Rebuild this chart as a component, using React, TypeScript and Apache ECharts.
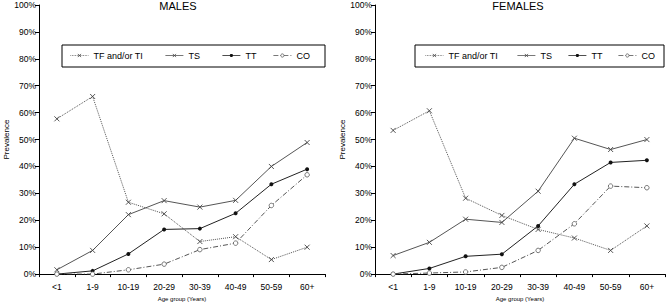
import React, { useEffect, useRef } from 'react';
import * as echarts from 'echarts';

const ageGroups = ['<1', '1-9', '10-19', '20-29', '30-39', '40-49', '50-59', '60+'];
const seriesNames = ['TF and/or TI', 'TS', 'TT', 'CO'];
const panelTitles = ['MALES', 'FEMALES'];

const malesTFTI = [57.7, 66.0, 26.7, 22.4, 12.1, 13.9, 5.4, 10.0];
const malesTS = [1.6, 8.8, 22.1, 27.3, 24.9, 27.4, 40.0, 48.9];
const malesTT = [0, 1.2, 7.5, 16.6, 16.9, 22.6, 33.4, 39.0];
const malesCO = [0, 0, 1.6, 3.7, 9.1, 11.5, 25.5, 36.9];

const femalesTFTI = [53.4, 60.7, 28.2, 21.8, 16.6, 13.4, 8.8, 17.9];
const femalesTS = [6.9, 11.8, 20.4, 19.2, 30.8, 50.5, 46.3, 50.0];
const femalesTT = [0, 2.1, 6.6, 7.4, 17.9, 33.4, 41.5, 42.3];
const femalesCO = [0, 0.4, 0.8, 2.5, 8.8, 18.7, 32.7, 32.1];

const yMin = 0;
const yMax = 100;
const yStep = 10;

const FONT = '"Liberation Sans", Arial, sans-serif';
const CROSS = 'path://M0,0L10,10M0,10L10,0';

const styles = [
  {
    symbol: CROSS,
    symbolSize: 5,
    itemStyle: { color: '#444', borderColor: '#444', borderWidth: 0.9 },
    lineStyle: { color: '#555', width: 1, type: 'dotted' },
  },
  {
    symbol: CROSS,
    symbolSize: 5,
    itemStyle: { color: '#444', borderColor: '#444', borderWidth: 0.9 },
    lineStyle: { color: '#555', width: 1, type: 'solid' },
  },
  {
    symbol: 'circle',
    symbolSize: 4,
    itemStyle: { color: '#111' },
    lineStyle: { color: '#222', width: 1, type: 'solid' },
  },
  {
    symbol: 'circle',
    symbolSize: 4.5,
    itemStyle: { color: '#fff', borderColor: '#555', borderWidth: 0.8 },
    lineStyle: { color: '#555', width: 1, type: [5, 2, 1, 2] },
  },
];

export default function App() {
  const ref = useRef<HTMLDivElement>(null);

  useEffect(() => {
    if (!ref.current) return;
    const chart = echarts.init(ref.current, undefined, { renderer: 'svg' });

    const panels = [
      { data: [malesTFTI, malesTS, malesTT, malesCO], left: 39, width: 286, titleX: 178, legendBox: [62, 263], legendLefts: [70, 165, 222, 273] },
      { data: [femalesTFTI, femalesTS, femalesTT, femalesCO], left: 375, width: 290, titleX: 518, legendBox: [415, 249], legendLefts: [425, 517, 568, 618] },
    ];

    const grid = panels.map((p) => ({ left: p.left, top: 5, width: p.width, height: 276, containLabel: false }));

    const xAxis = panels.map((_, i) => ({
      type: 'category',
      gridIndex: i,
      data: ageGroups,
      boundaryGap: true,
      axisLine: { lineStyle: { color: '#000', width: 1 } },
      axisTick: { show: true, length: 3, lineStyle: { color: '#000' } },
      axisLabel: { fontSize: 8.5, color: '#000', margin: 8, fontFamily: FONT },
      name: 'Age group (Years)',
      nameLocation: 'middle',
      nameGap: 20,
      nameTextStyle: { fontSize: 6, color: '#000', fontFamily: FONT },
    }));

    const yAxis = panels.map((_, i) => ({
      type: 'value',
      gridIndex: i,
      min: yMin,
      max: yMax,
      interval: yStep,
      splitLine: { show: false },
      axisLine: { show: true, lineStyle: { color: '#000', width: 1 } },
      axisTick: { show: true, length: 4, lineStyle: { color: '#000' } },
      axisLabel: { fontSize: 8.5, color: '#000', margin: 3, fontFamily: FONT, formatter: '{value}%' },
      name: 'Prevalence',
      nameLocation: 'middle',
      nameGap: 28,
      nameTextStyle: { fontSize: 8, color: '#000', fontFamily: FONT },
    }));

    const series: any[] = [];
    panels.forEach((p, pi) => {
      p.data.forEach((vals, si) => {
        series.push({
          type: 'line',
          name: seriesNames[si],
          xAxisIndex: pi,
          yAxisIndex: pi,
          data: vals,
          showSymbol: true,
          ...styles[si],
        });
      });
    });

    const legend: any[] = [];
    panels.forEach((p) => {
      seriesNames.forEach((n, si) => {
        legend.push({
          data: [n],
          left: p.legendLefts[si],
          top: 51,
          padding: 0,
          itemWidth: 18,
          itemHeight: 4,
          itemGap: 0,
          selectedMode: false,
          lineStyle: { width: 0.8 },
          itemStyle: { borderWidth: 0.8 },
          textStyle: { fontSize: 9, color: '#000', fontFamily: FONT },
        });
      });
    });

    const graphic: any[] = [];
    panels.forEach((p, pi) => {
      graphic.push({
        type: 'rect',
        shape: { x: p.legendBox[0], y: 45, width: p.legendBox[1], height: 22 },
        style: { fill: 'none', stroke: '#000', lineWidth: 1 },
        z: 10,
      });
      graphic.push({
        type: 'text',
        x: p.titleX,
        y: 0,
        style: { text: panelTitles[pi], fontSize: 11, fontFamily: FONT, fill: '#000', textAlign: 'center', textVerticalAlign: 'top' },
      });
    });

    chart.setOption({
      animation: false,
      backgroundColor: '#fff',
      grid,
      xAxis,
      yAxis,
      series,
      legend,
      graphic,
    });

    return () => chart.dispose();
  }, []);

  return <div ref={ref} style={{ position: 'fixed', left: 0, top: 0, width: 668, height: 307 }} />;
}
